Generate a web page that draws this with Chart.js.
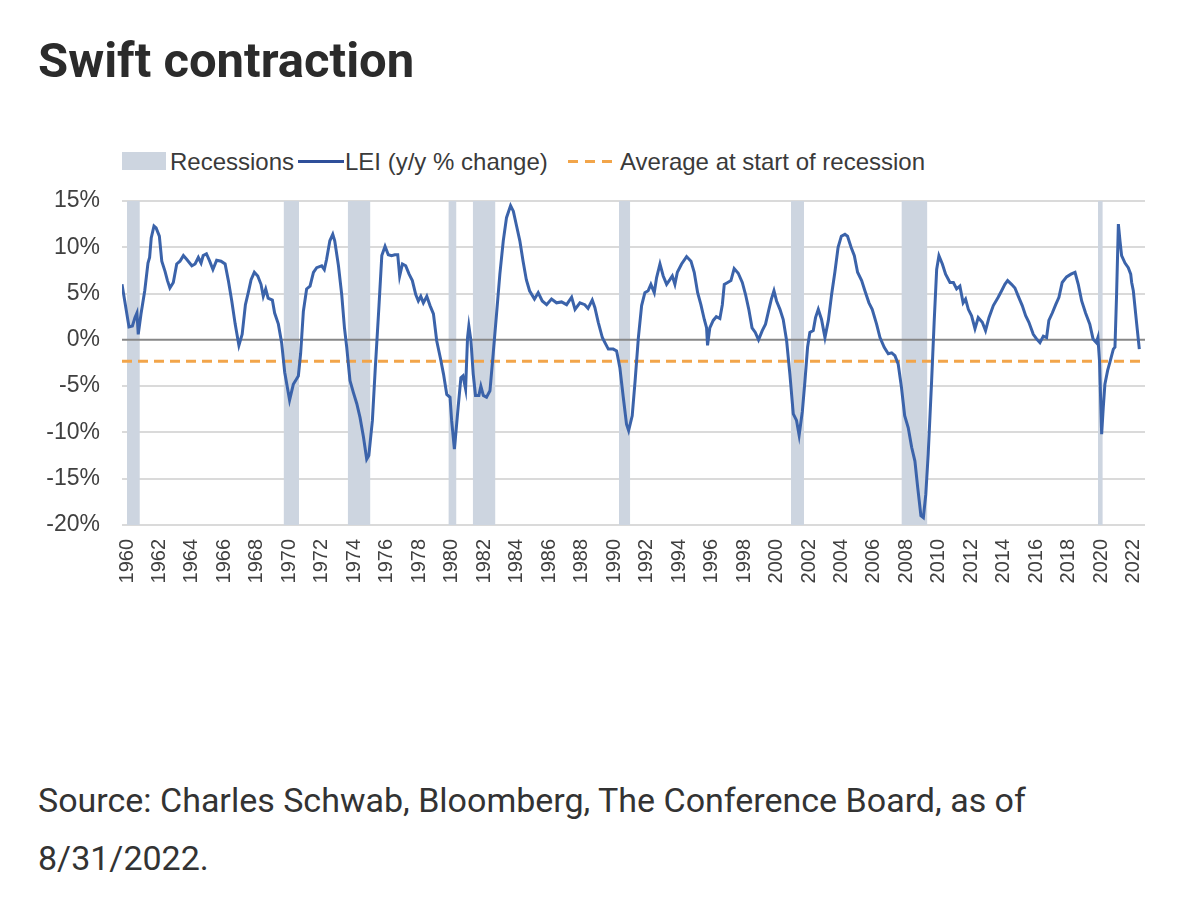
<!DOCTYPE html>
<html>
<head>
<meta charset="utf-8">
<script src="https://cdn.jsdelivr.net/npm/chart.js@4.4.0/dist/chart.umd.min.js"></script>
<style>
  html, body { margin: 0; padding: 0; background: #ffffff; }
  body { width: 1200px; height: 900px; position: relative; overflow: hidden; }
  #title { position: absolute; left: 38px; top: 36px; font-family: Roboto, "Liberation Sans", sans-serif; font-weight: 700; font-size: 49px; line-height: 49px; color: #2b2b2b; white-space: nowrap; letter-spacing: 0; }
  #source { position: absolute; left: 38px; top: 771px; font-family: Roboto, "Liberation Sans", sans-serif; font-size: 34px; line-height: 58px; color: #333333; white-space: nowrap; }
  .lg { position: absolute; font-family: "Liberation Sans", Arial, sans-serif; font-size: 24px; line-height: 24px; color: #3a3a3a; white-space: nowrap; top: 150px; }
  .sw { position: absolute; }
  #wrap { position: absolute; left: 0; top: 130px; width: 1200px; height: 500px; }
</style>
</head>
<body>
<div id="title">Swift contraction</div>

<div class="sw" style="left:122px;top:152px;width:44px;height:18px;background:#cdd5e0;"></div>
<div class="lg" style="left:170px;">Recessions</div>
<div class="sw" style="left:298px;top:160px;width:46px;height:3px;background:#2f4f9a;"></div>
<div class="lg" style="left:345px;">LEI (y/y % change)</div>
<div class="sw" style="left:568px;top:160px;width:44px;height:3px;background:repeating-linear-gradient(to right,#f2a54a 0 10px,transparent 10px 17px);"></div>
<div class="lg" style="left:620px;">Average at start of recession</div>

<div id="wrap"><canvas id="c" width="1200" height="500"></canvas></div>

<div id="source">Source: Charles Schwab, Bloomberg, The Conference Board, as of<br>8/31/2022.</div>

<script>
// ---- Data ----
const leiYears = [
1960.0,1960.3,1960.43,1960.64,1960.8,1960.92,1961.0,1961.17,1961.4,1961.6,1961.7,1961.8,1961.97,1962.1,1962.3,1962.45,1962.65,1962.8,1962.95,
1963.16,1963.37,1963.57,1963.78,1963.98,1964.3,1964.5,1964.7,1964.87,1965.0,1965.2,1965.4,1965.6,1965.83,1966.1,1966.35,1966.55,1966.76,1966.97,
1967.2,1967.4,1967.6,1967.8,1967.95,1968.15,1968.36,1968.56,1968.7,1968.85,1969.0,1969.26,1969.4,1969.63,1969.83,1970.02,1970.32,1970.55,1970.86,
1971.0,1971.17,1971.37,1971.58,1971.79,1971.99,1972.3,1972.46,1972.6,1972.8,1972.98,1973.1,1973.33,1973.53,1973.7,1973.84,1974.04,1974.25,1974.46,
1974.66,1974.87,1975.07,1975.2,1975.42,1975.6,1975.83,1976.0,1976.2,1976.4,1976.6,1976.8,1976.98,1977.1,1977.27,1977.47,1977.68,1977.88,1978.09,
1978.25,1978.4,1978.56,1978.77,1978.97,1979.18,1979.38,1979.6,1979.8,1980.0,1980.2,1980.3,1980.47,1980.7,1980.87,1981.0,1981.16,1981.28,1981.36,
1981.49,1981.63,1981.77,1981.98,1982.1,1982.25,1982.45,1982.66,1982.86,1983.07,1983.27,1983.48,1983.68,1983.93,1984.1,1984.3,1984.5,1984.7,1984.9,
1985.1,1985.4,1985.63,1985.88,1986.15,1986.45,1986.76,1987.07,1987.38,1987.69,1987.9,1988.2,1988.5,1988.7,1988.96,1989.12,1989.33,1989.58,1989.74,
1989.95,1990.25,1990.46,1990.66,1990.87,1991.07,1991.2,1991.42,1991.6,1991.8,1992.0,1992.2,1992.4,1992.57,1992.78,1992.92,1993.13,1993.33,1993.54,
1993.74,1993.89,1994.05,1994.2,1994.46,1994.77,1995.04,1995.24,1995.45,1995.65,1995.86,1996.0,1996.06,1996.2,1996.41,1996.6,1996.82,1996.97,1997.09,
1997.3,1997.5,1997.7,1997.95,1998.2,1998.4,1998.6,1998.8,1999.0,1999.2,1999.43,1999.63,1999.84,1999.99,2000.15,2000.31,2000.52,2000.72,2000.93,
2001.13,2001.34,2001.54,2001.7,2001.9,2002.06,2002.22,2002.36,2002.57,2002.71,2002.88,2003.08,2003.29,2003.5,2003.7,2003.9,2004.1,2004.3,2004.52,
2004.68,2004.9,2005.1,2005.3,2005.55,2005.75,2006.0,2006.2,2006.47,2006.68,2006.94,2007.19,2007.4,2007.6,2007.8,2008.0,2008.2,2008.42,2008.63,
2008.83,2009.0,2009.2,2009.35,2009.5,2009.65,2009.86,2010.02,2010.17,2010.31,2010.52,2010.72,2010.99,2011.2,2011.4,2011.6,2011.8,2011.95,2012.12,
2012.32,2012.53,2012.73,2012.98,2013.18,2013.39,2013.66,2013.96,2014.17,2014.37,2014.54,2014.78,2014.99,2015.2,2015.44,2015.65,2015.85,2016.12,2016.32,
2016.53,2016.74,2016.94,2017.08,2017.29,2017.5,2017.7,2017.9,2018.17,2018.44,2018.69,2018.89,2019.1,2019.34,2019.6,2019.8,2020.0,2020.1,2020.2,
2020.33,2020.43,2020.53,2020.7,2020.84,2021.05,2021.15,2021.25,2021.36,2021.46,2021.56,2021.77,2021.97,2022.12,2022.18,2022.28,2022.49,2022.65
];
const leiValues = [
6.0,2.8,1.4,1.5,2.4,2.9,0.6,2.8,5.3,8.3,8.9,11.0,12.3,12.1,11.2,8.5,7.4,6.4,5.6,
6.2,8.2,8.5,9.1,8.7,8.0,8.2,8.9,8.3,9.1,9.3,8.5,7.6,8.6,8.5,8.2,6.4,4.2,1.7,
-0.6,0.6,3.8,5.3,6.5,7.3,6.9,6.0,4.7,5.5,4.5,4.3,2.9,1.7,-0.3,-3.5,-6.5,-4.8,-3.9,
-1.5,3.1,5.5,5.8,7.3,7.8,8.0,7.6,8.7,10.7,11.4,10.7,8.0,4.9,1.3,-0.8,-4.4,-5.7,-6.9,
-8.4,-10.5,-12.9,-12.5,-8.7,-3.0,3.8,9.1,10.1,9.2,9.1,9.2,9.2,6.9,8.2,8.0,7.1,6.4,4.9,
4.2,4.7,4.0,4.7,3.7,2.8,-0.1,-1.9,-3.7,-5.9,-6.2,-8.7,-11.8,-7.3,-4.1,-3.9,-5.3,0.25,1.5,
-0.1,-3.7,-6.0,-6.0,-5.0,-6.0,-6.2,-5.5,-1.5,2.9,7.1,10.7,13.2,14.5,13.9,12.3,10.7,8.5,6.5,
5.3,4.4,5.1,4.2,3.8,4.4,4.0,4.1,3.8,4.6,3.3,4.0,3.8,3.4,4.3,3.5,1.9,0.25,-0.3,
-1.0,-1.0,-1.2,-3.0,-6.2,-9.1,-9.8,-8.2,-4.4,0.25,3.7,5.1,5.3,6.0,5.1,6.7,8.2,6.9,6.0,
6.5,6.9,6.0,7.3,8.2,9.0,8.5,7.3,5.1,3.8,2.2,1.3,-0.6,1.3,2.1,2.5,2.3,3.8,6.0,
6.2,6.4,7.7,7.2,6.2,4.9,3.3,1.3,0.8,0.0,1.0,1.7,3.3,4.4,5.3,4.2,3.3,2.2,-0.1,
-3.7,-8.0,-8.7,-10.3,-7.7,-4.4,-0.8,0.8,1.0,2.4,3.3,2.2,0.25,2.1,4.9,7.3,10.0,11.2,11.4,
11.2,10.0,9.1,7.3,6.4,5.3,4.0,3.3,1.7,0.25,-0.8,-1.5,-1.4,-1.7,-2.6,-5.1,-8.2,-9.5,-11.6,
-13.1,-15.9,-19.0,-19.2,-16.7,-12.3,-4.4,2.1,7.6,9.1,8.2,7.1,6.2,6.2,5.5,5.8,4.0,4.4,3.3,
2.6,1.2,2.4,1.9,1.0,2.4,3.7,4.6,5.3,6.0,6.4,6.0,5.6,4.7,3.7,2.6,1.9,0.6,0.1,
-0.3,0.4,0.25,2.1,2.9,3.8,4.6,6.2,6.8,7.1,7.3,6.0,4.2,2.9,1.7,0.1,-0.3,0.25,-2.3,
-10.2,-7.3,-4.8,-3.3,-2.4,-1.0,-0.8,4.9,12.5,10.7,9.1,8.3,7.8,7.1,6.2,5.3,1.7,-1.0
];
const recessionStarts = [1960.3, 1969.95, 1973.9, 1980.1, 1981.6, 1990.6, 2001.2, 2008.0, 2020.1];
const recessionEnds   = [1961.1, 1970.9, 1975.3, 1980.6, 1983.0, 1991.3, 2002.0, 2009.6, 2020.4];
const averageAtRecessionStart = -2.3;
const yTicks = [-20, -15, -10, -5, 0, 5, 10, 15];
const xRange = [1960, 2023];

// ---- Build datasets ----
const leiData = leiYears.map((x, i) => ({ x: x, y: leiValues[i] }));
const recData = [];
recessionStarts.forEach((s, i) => {
  recData.push({ x: s, y: yTicks[yTicks.length - 1] });
  recData.push({ x: recessionEnds[i], y: yTicks[yTicks.length - 1] });
  const next = i + 1 < recessionStarts.length ? recessionStarts[i + 1] : recessionEnds[i] + 0.5;
  recData.push({ x: (recessionEnds[i] + next) / 2, y: null });
});

const chart = new Chart(document.getElementById('c'), {
  type: 'line',
  data: {
    datasets: [
      {
        label: 'LEI (y/y % change)',
        data: leiData,
        borderColor: '#3b63aa',
        borderWidth: 3,
        pointRadius: 0,
        tension: 0,
        fill: false,
        order: 0
      },
      {
        label: 'Average at start of recession',
        data: [{ x: xRange[0], y: averageAtRecessionStart }, { x: xRange[1], y: averageAtRecessionStart }],
        borderColor: '#f2a54a',
        borderWidth: 3,
        borderDash: [10, 6],
        pointRadius: 0,
        fill: false,
        order: 1
      },
      {
        label: 'zero',
        data: [{ x: xRange[0], y: 0 }, { x: xRange[1], y: 0 }],
        borderColor: '#878787',
        borderWidth: 2,
        pointRadius: 0,
        fill: false,
        order: 2
      },
      {
        label: 'Recessions',
        data: recData,
        borderWidth: 0,
        borderColor: 'rgba(0,0,0,0)',
        backgroundColor: '#cdd5e0',
        pointRadius: 0,
        spanGaps: false,
        fill: 'start',
        order: 5
      }
    ]
  },
  options: {
    responsive: false,
    animation: false,
    devicePixelRatio: 1,
    layout: { padding: { top: 71, right: 55, left: 0, bottom: 0 } },
    plugins: { legend: { display: false }, tooltip: { enabled: false } },
    scales: {
      x: {
        type: 'linear',
        min: xRange[0],
        max: xRange[1],
        grid: { display: false, drawTicks: false },
        border: { display: false },
        ticks: {
          stepSize: 2,
          includeBounds: false,
          autoSkip: false,
          minRotation: 90,
          maxRotation: 90,
          padding: 14,
          labelOffset: 5,
          color: '#404040',
          font: { family: '"Liberation Sans", Arial, sans-serif', size: 20 },
          callback: (v) => String(v)
        },
        afterFit: (s) => { s.height = 105; }
      },
      y: {
        min: yTicks[0],
        max: yTicks[yTicks.length - 1],
        grid: {
          drawTicks: false,
          lineWidth: 2,
          color: (ctx) => (ctx.tick && ctx.tick.value === 0) ? 'rgba(0,0,0,0)' : '#dadada'
        },
        border: { display: false },
        afterBuildTicks: (s) => { s.ticks = yTicks.map(v => ({ value: v })); },
        ticks: {
          padding: 22,
          color: '#404040',
          font: { family: '"Liberation Sans", Arial, sans-serif', size: 23 },
          callback: (v) => v + '%'
        },
        afterFit: (s) => { s.width = 122; }
      }
    }
  }
});
</script>
</body>
</html>
